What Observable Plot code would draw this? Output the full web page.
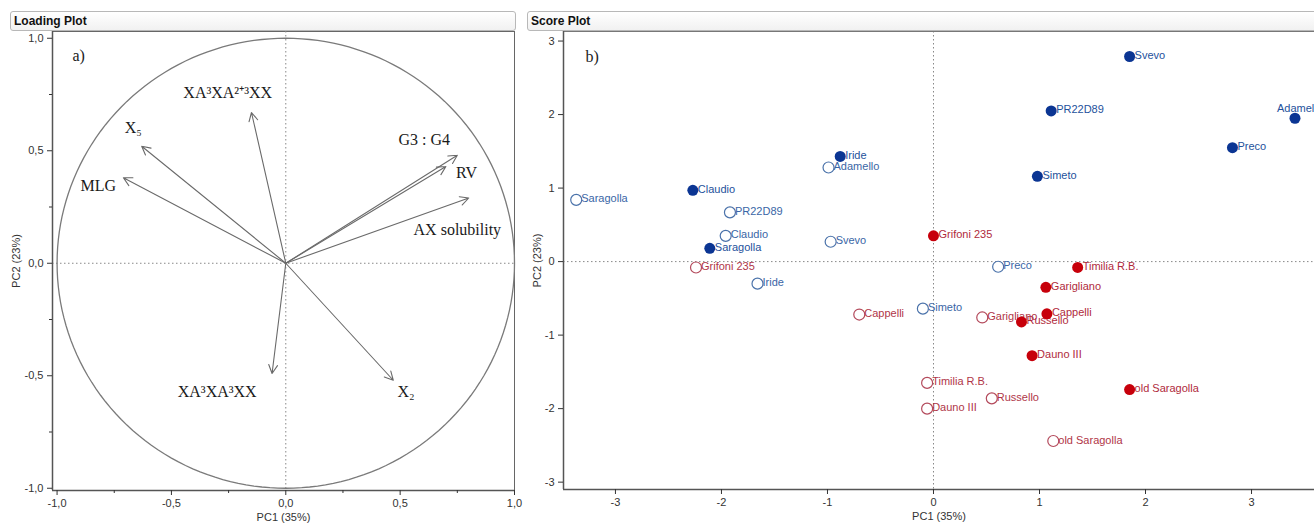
<!DOCTYPE html>
<html><head><meta charset="utf-8">
<script src="https://cdn.jsdelivr.net/npm/d3@7"></script>
<script src="https://cdn.jsdelivr.net/npm/@observablehq/plot@0.6"></script>
<style>
body{margin:0;background:#fff;}
#wrap{position:relative;width:1314px;height:524px;overflow:hidden;font-family:"Liberation Sans",Arial,sans-serif;}
.panel{position:absolute;top:0;}
.hdr{position:absolute;top:11px;height:18px;border:1px solid #b8b8b8;border-radius:3px;background:linear-gradient(#ffffff,#f1f1f1);font:bold 12px "Liberation Sans",Arial,sans-serif;line-height:18px;padding-left:3px;color:#111;z-index:2;}
</style></head><body>
<div id="wrap">
<div id="left" class="panel" style="left:0"></div>
<div id="right" class="panel" style="left:520px"></div>
<div class="hdr" style="left:10px;width:501px">Loading Plot</div>
<div class="hdr" style="left:527px;width:800px">Score Plot</div>
</div>
<script>
// ---------- Loading plot data ----------
const loadingVars = ["XA³XA²⁺³XX", "X₅", "MLG", "G3 : G4", "RV", "AX solubility", "XA³XA³XX", "X₂"];
const loadingPC1 = [-0.15, -0.63, -0.71, 0.75, 0.70, 0.80, -0.06, 0.47];
const loadingPC2 = [0.67, 0.52, 0.38, 0.48, 0.43, 0.29, -0.49, -0.52];
const loadingLabelPC1 = [-0.254, -0.667, -0.82, 0.605, 0.79, 0.75, -0.30, 0.526];
const loadingLabelPC2 = [0.756, 0.60, 0.342, 0.547, 0.40, 0.147, -0.573, -0.573];
const loadingTicks = [-1, -0.5, 0, 0.5, 1];
const loadingMinorTicks = [-0.75, -0.25, 0.25, 0.75];

// ---------- Score plot data ----------
const cultivars = [
  "Svevo","PR22D89","Adamello","Preco","Simeto","Iride","Claudio","Saragolla",
  "Saragolla","Adamello","PR22D89","Claudio","Svevo","Iride","Simeto","Preco",
  "Grifoni 235","Timilia R.B.","Garigliano","Cappelli","Russello","Dauno III","old Saragolla",
  "Grifoni 235","Cappelli","Garigliano","Timilia R.B.","Russello","Dauno III","old Saragolla"
];
const scorePC1 = [
  1.85, 1.11, 3.41, 2.82, 0.98, -0.88, -2.27, -2.11,
  -3.37, -0.99, -1.92, -1.96, -0.97, -1.66, -0.10, 0.61,
  0.00, 1.36, 1.06, 1.07, 0.83, 0.93, 1.85,
  -2.24, -0.70, 0.46, -0.06, 0.55, -0.06, 1.13
];
const scorePC2 = [
  2.79, 2.05, 1.95, 1.55, 1.16, 1.43, 0.97, 0.18,
  0.84, 1.28, 0.67, 0.35, 0.27, -0.30, -0.64, -0.07,
  0.35, -0.08, -0.35, -0.71, -0.82, -1.28, -1.74,
  -0.08, -0.72, -0.76, -1.65, -1.86, -2.00, -2.44
];
const scoreGroup = [
  "modern","modern","modern","modern","modern","modern","modern","modern",
  "modern","modern","modern","modern","modern","modern","modern","modern",
  "old","old","old","old","old","old","old",
  "old","old","old","old","old","old","old"
];
const scoreFill = [
  "filled","filled","filled","filled","filled","filled","filled","filled",
  "open","open","open","open","open","open","open","open",
  "filled","filled","filled","filled","filled","filled","filled",
  "open","open","open","open","open","open","open"
];
const scoreTicks = [-3, -2, -1, 0, 1, 2, 3];

// ---------- build tables ----------
const loadings = loadingVars.map((name, i) => ({name, x: loadingPC1[i], y: loadingPC2[i], lx: loadingLabelPC1[i], ly: loadingLabelPC2[i]}));
const scores = cultivars.map((name, i) => ({name, x: scorePC1[i], y: scorePC2[i], group: scoreGroup[i], fill: scoreFill[i]}));
const circle = d3.range(0, 361, 2).map(a => ({x: Math.cos(a * Math.PI / 180), y: Math.sin(a * Math.PI / 180)}));

const fmt1 = d => d3.format(".1f")(d).replace("−", "-").replace(".", ",");
const fmtInt = d => String(d);
const axisFont = {fontSize: 11, fill: "#333"};

const colors = {
  "modern-filled": {fill: "#0b3593", text: "#24519c"},
  "modern-open": {stroke: "#4a72aa", text: "#3a66a6"},
  "old-filled": {fill: "#c7000b", text: "#b02a3c"},
  "old-open": {stroke: "#b3495b", text: "#b03648"}
};

// ---------- Left: loading plot ----------
const left = Plot.plot({
  width: 530, height: 524,
  marginLeft: 52, marginRight: 16, marginTop: 31, marginBottom: 34,
  style: {fontFamily: "'Liberation Sans', Arial, sans-serif", fontSize: "11px", color: "#333", background: "transparent"},
  x: {domain: [-1.02, 1.0]},
  y: {domain: [-1.01, 1.03]},
  marks: [
    Plot.frame({stroke: "#666"}),
    Plot.ruleX([0], {stroke: "#888", strokeDasharray: "1.5,2.5"}),
    Plot.ruleY([0], {stroke: "#888", strokeDasharray: "1.5,2.5"}),
    Plot.line(circle, {x: "x", y: "y", stroke: "#7a7a7a", strokeWidth: 1.3}),
    Plot.arrow(loadings, {x1: 0, y1: 0, x2: "x", y2: "y", stroke: "#6a6a6a", strokeWidth: 1.1, headLength: 13, headAngle: 55}),
    Plot.text(loadings, {x: "lx", y: "ly", text: "name", fontFamily: "'Liberation Serif', 'Times New Roman', serif", fontSize: 16, fill: "#1a1a1a"}),
    Plot.text(["a)"], {frameAnchor: "top-left", dx: 20, dy: 18, fontFamily: "'Liberation Serif', 'Times New Roman', serif", fontSize: 16, fill: "#1a1a1a"}),
    Plot.ruleX([-1.02], {stroke: "#555", strokeWidth: 1.5}),
    Plot.ruleY([-1.01], {stroke: "#555", strokeWidth: 1.5}),
    Plot.axisX(loadingTicks, {tickSize: 5, tickFormat: fmt1, ...axisFont, label: "PC1 (35%)", labelAnchor: "center", labelArrow: "none", labelOffset: 30}),
    Plot.axisX(loadingMinorTicks, {tickSize: 3, tickFormat: () => "", label: null}),
    Plot.axisY(loadingTicks, {tickSize: 5, tickFormat: fmt1, ...axisFont, label: "PC2 (23%)", labelAnchor: "center", labelArrow: "none", labelOffset: 40}),
    Plot.axisY(loadingMinorTicks, {tickSize: 3, tickFormat: () => "", label: null})
  ]
});
document.getElementById("left").appendChild(left);

// ---------- Right: score plot ----------
const keyOf = d => d.group + "-" + d.fill;
const filled = scores.filter(d => d.fill === "filled");
const open = scores.filter(d => d.fill === "open");
const isEdgeLabel = d => d.name === "Adamello" && d.fill === "filled";

const right = Plot.plot({
  width: 794, height: 524,
  marginLeft: 43, marginRight: 0, marginTop: 31, marginBottom: 35,
  style: {fontFamily: "'Liberation Sans', Arial, sans-serif", fontSize: "11px", color: "#333", background: "transparent"},
  x: {domain: [-3.49, 3.594]},
  y: {domain: [-3.10, 3.13]},
  marks: [
    Plot.ruleX([0], {stroke: "#888", strokeDasharray: "1.5,2.5"}),
    Plot.ruleY([0], {stroke: "#888", strokeDasharray: "1.5,2.5"}),
    Plot.ruleY([3.13], {stroke: "#777", strokeWidth: 1}),
    Plot.ruleX([-3.49], {stroke: "#555", strokeWidth: 1.5}),
    Plot.ruleY([-3.10], {stroke: "#555", strokeWidth: 1.5}),
    Plot.text(scores.filter(d => !isEdgeLabel(d)), {x: "x", y: "y", text: "name", textAnchor: "start", dx: 5, dy: -1, fontSize: 11, fill: d => colors[keyOf(d)].text}),
    Plot.text(scores.filter(isEdgeLabel), {x: "x", y: "y", text: "name", textAnchor: "start", dx: -18, dy: -10, fontSize: 11, fill: d => colors[keyOf(d)].text}),
    Plot.dot(open, {x: "x", y: "y", r: 5.5, fill: "white", fillOpacity: 0, stroke: d => colors[keyOf(d)].stroke, strokeWidth: 1.2}),
    Plot.dot(filled, {x: "x", y: "y", r: 5.5, fill: d => colors[keyOf(d)].fill, stroke: "none"}),
    Plot.text(["b)"], {frameAnchor: "top-left", dx: 22, dy: 19, fontFamily: "'Liberation Serif', 'Times New Roman', serif", fontSize: 16, fill: "#1a1a1a"}),
    Plot.axisX(scoreTicks, {tickSize: 5, tickFormat: fmtInt, ...axisFont, label: "PC1 (35%)", labelAnchor: "center", labelArrow: "none", labelOffset: 30}),
    Plot.axisY(scoreTicks, {tickSize: 5, tickFormat: fmtInt, ...axisFont, label: "PC2 (23%)", labelAnchor: "center", labelArrow: "none", labelOffset: 30})
  ]
});
document.getElementById("right").appendChild(right);
</script>
</body></html>
